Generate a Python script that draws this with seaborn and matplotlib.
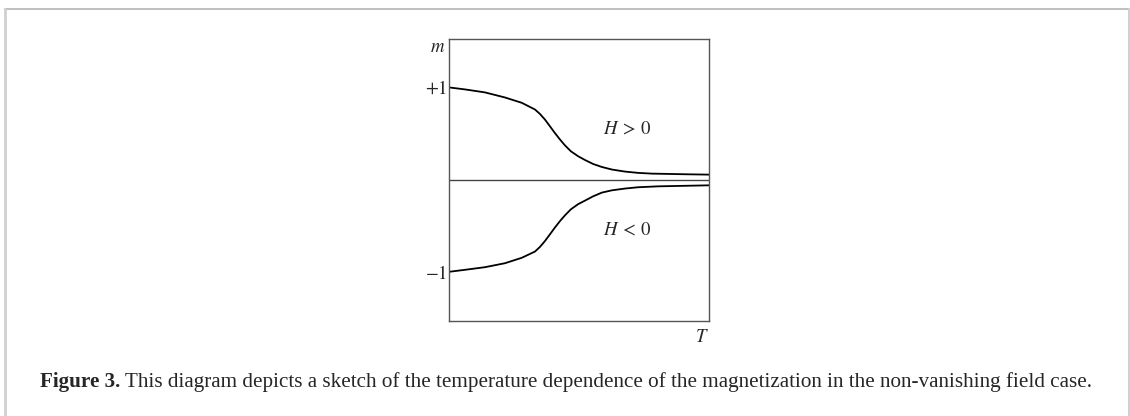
import matplotlib
matplotlib.use("Agg")
import matplotlib.pyplot as plt
import seaborn as sns
import pandas as pd

# --- datos (T normalizado 0..1, m en unidades de m_sat) ---
t_pos = [0.0, 0.062, 0.138, 0.215, 0.280, 0.331, 0.350, 0.369, 0.388, 0.408,
         0.427, 0.446, 0.469, 0.497, 0.523, 0.554, 0.588, 0.627, 0.677, 0.727,
         0.780, 0.908, 1.0]
m_pos = [1.0, 0.978, 0.946, 0.891, 0.833, 0.760, 0.712, 0.652, 0.580, 0.503,
         0.435, 0.372, 0.307, 0.253, 0.213, 0.170, 0.137, 0.109, 0.087, 0.073,
         0.065, 0.058, 0.054]

t_neg = [0.0, 0.062, 0.138, 0.215, 0.280, 0.331, 0.350, 0.369, 0.388, 0.408,
         0.427, 0.446, 0.469, 0.497, 0.523, 0.554, 0.588, 0.627, 0.677, 0.727,
         0.805, 1.0]
m_neg = [-1.0, -0.978, -0.950, -0.907, -0.848, -0.780, -0.730, -0.667, -0.595,
         -0.518, -0.450, -0.388, -0.322, -0.266, -0.228, -0.182, -0.141, -0.116,
         -0.097, -0.083, -0.073, -0.062]

ytick_vals = [1, -1]
ytick_labels = [r"$+1$", r"$-1$"]
field_labels = [r"$H\:>\:0$", r"$H\:<\:0$"]
caption_bold = "Figure 3."
caption_text = (" This diagram depicts a sketch of the temperature dependence of the "
                "magnetization in the non-vanishing field case.")

sns.set_theme(style="white")
plt.rcParams["mathtext.fontset"] = "stix"
plt.rcParams["font.family"] = ["Liberation Serif", "DejaVu Serif"]

fig = plt.figure(figsize=(11.3, 4.16), dpi=100)
ax = fig.add_axes([0.3973, 0.2291, 0.2301, 0.6772])

df = pd.concat([
    pd.DataFrame({"T": t_pos, "m": m_pos, "rama": "pos"}),
    pd.DataFrame({"T": t_neg, "m": m_neg, "rama": "neg"}),
])
sns.lineplot(data=df, x="T", y="m", units="rama", estimator=None,
             color="black", lw=1.3, ax=ax, sort=False)
ax.axhline(0, color="#444444", lw=1.0)

ax.set_xlim(0, 1)
ax.set_ylim(-1.53, 1.525)
ax.set_xticks([])
ax.set_yticks(ytick_vals)
ax.set_yticklabels(ytick_labels, fontsize=13.5)
ax.tick_params(axis="y", length=0, pad=1.5)
ax.set_xlabel("")
ax.set_ylabel("")
for s in ax.spines.values():
    s.set_color("#555555")
    s.set_linewidth(1.0)

# etiquetas de ejes y de rama
ax.text(-0.015, 1.0, r"$m$", transform=ax.transAxes, ha="right", va="top", fontsize=13.5)
ax.text(1.0, -0.03, r"$T$", transform=ax.transAxes, ha="right", va="top", fontsize=13.5)
ax.text(0.685, 0.55, field_labels[0], ha="center", va="center", fontsize=13.5)
ax.text(0.685, -0.55, field_labels[1], ha="center", va="center", fontsize=13.5)

# marco de pagina
fig.add_artist(plt.Line2D([5 / 1130, 1129 / 1130], [1 - 9 / 416, 1 - 9 / 416],
                          transform=fig.transFigure, color="#b4b4b4", lw=1.2))
fig.add_artist(plt.Line2D([5 / 1130, 5 / 1130], [0, 1 - 9 / 416],
                          transform=fig.transFigure, color="#d0d0d0", lw=2.0))
fig.add_artist(plt.Line2D([1128.5 / 1130, 1128.5 / 1130], [0, 1 - 9 / 416],
                          transform=fig.transFigure, color="#d0d0d0", lw=1.5))

# pie de figura
cap_y = 1 - 382 / 416
t1 = fig.text(40 / 1130, cap_y, caption_bold, fontsize=15.2, fontweight="bold",
              va="center", ha="left")
fig.canvas.draw()
bb = t1.get_window_extent()
fig.text(bb.x1 / fig.bbox.width, cap_y, caption_text, fontsize=15.2,
         va="center", ha="left")

fig.savefig("out.png", dpi=100)
